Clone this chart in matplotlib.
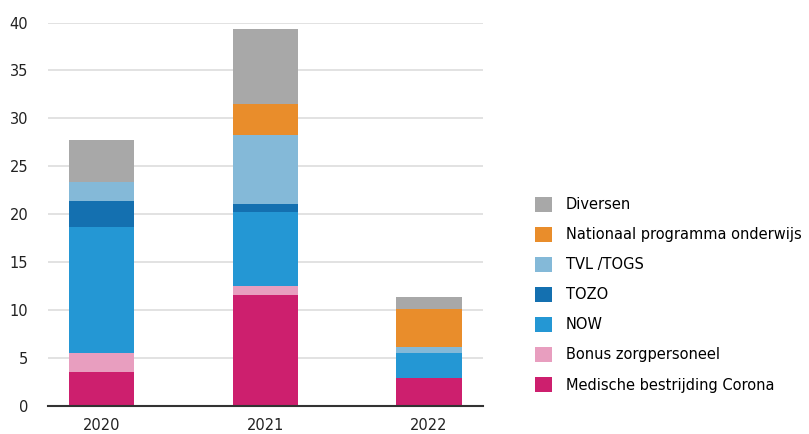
import matplotlib.pyplot as plt
import numpy as np
from matplotlib.patches import Patch

plt.rcParams['font.family'] = ['DejaVu Sans']

years = ["2020", "2021", "2022"]
series_names = [
    "Medische bestrijding Corona",
    "Bonus zorgpersoneel",
    "NOW",
    "TOZO",
    "TVL /TOGS",
    "Nationaal programma onderwijs",
    "Diversen",
]
medische = [3.5, 11.6, 2.9]
bonus = [2.0, 0.9, 0.05]
now = [13.2, 7.7, 2.6]
tozo = [2.7, 0.9, 0.0]
tvl = [2.0, 7.2, 0.6]
npo = [0.0, 3.2, 4.0]
diversen = [4.3, 7.8, 1.25]

series_values = [medische, bonus, now, tozo, tvl, npo, diversen]
colors = ["#cd1f6e", "#e89ebf", "#2497d4", "#1470b0", "#84b9d8", "#e98d2b", "#a8a8a8"]

fig = plt.figure(figsize=(8.09, 4.34), dpi=100)
ax = fig.add_axes([0.059, 0.065, 0.538, 0.883])

x = np.arange(len(years))
bottom = np.zeros(len(years))
for name, vals, col in zip(series_names, series_values, colors):
    vals = np.array(vals)
    ax.bar(x, vals, 0.40, bottom=bottom, color=col, label=name, zorder=3)
    bottom += vals

ax.set_xlim(-0.33, 2.33)
ax.set_ylim(0, 40)
ax.set_yticks(np.arange(0, 41, 5))
ax.set_xticks(x)
ax.set_xticklabels(years)
ax.grid(axis="y", color="#dddddd", linewidth=1.2, zorder=0)
for s in ["top", "right", "left"]:
    ax.spines[s].set_visible(False)
ax.spines["bottom"].set_color("#333333")
ax.spines["bottom"].set_linewidth(1.5)
ax.spines["bottom"].set_zorder(4)
ax.tick_params(axis="y", length=0, pad=14, labelsize=10.5, labelcolor="#222222")
ax.tick_params(axis="x", length=0, pad=9, labelsize=10.5, labelcolor="#222222")

handles = [Patch(facecolor=c, label=n) for n, c in zip(series_names, colors)][::-1]
fig.legend(handles=handles, loc="upper left", bbox_to_anchor=(0.661, 0.546),
           frameon=False, fontsize=10.5, handlelength=1.15, handleheight=1.15,
           labelspacing=1.02, handletextpad=1.0, borderaxespad=0, borderpad=0)

plt.savefig("out.png", dpi=100)
plt.close()
